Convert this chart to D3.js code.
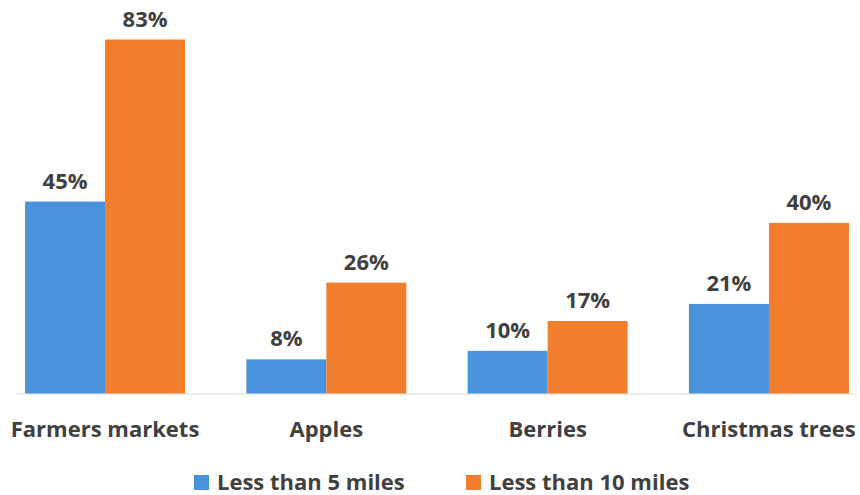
<!DOCTYPE html>
<html>
<head>
<meta charset="utf-8">
<script src="https://cdn.jsdelivr.net/npm/d3@7"></script>
<style>
  html, body { margin: 0; padding: 0; background: #fff; }
  svg { display: block; }
  text { font-family: "Open Sans", "DejaVu Sans", sans-serif; font-weight: 700; fill: #404040; }
</style>
</head>
<body>
<svg id="chart" width="860" height="495"></svg>
<script>
// Share of respondents within each distance, by destination
const categories = ["Farmers markets", "Apples", "Berries", "Christmas trees"];
const seriesNames = ["Less than 5 miles", "Less than 10 miles"];
const under5 = [45, 8, 10, 21];
const under10 = [83, 26, 17, 40];
const seriesColors = ["#4a92dc", "#f07e2c"];

const svg = d3.select("#chart");
const W = 860, H = 495;
const baseline = 393.5;

const x0 = d3.scaleBand()
  .domain(categories)
  .range([-5.6, 879.6])
  .paddingInner(0.277)
  .paddingOuter(0.1385);

const x1 = d3.scaleBand()
  .domain(seriesNames)
  .range([0, x0.bandwidth()]);

const y = d3.scaleLinear()
  .domain([0, 90])
  .range([baseline, baseline - 90 * 4.265]);

const rows = categories.map((c, i) => ({
  category: c,
  values: [
    { series: seriesNames[0], value: under5[i] },
    { series: seriesNames[1], value: under10[i] }
  ]
}));

// category axis line
svg.append("line")
  .attr("x1", 17).attr("x2", 857)
  .attr("y1", baseline + 0.5).attr("y2", baseline + 0.5)
  .attr("stroke", "#d9d9d9").attr("stroke-width", 1);

const groups = svg.selectAll("g.cat")
  .data(rows)
  .join("g")
  .attr("class", "cat")
  .attr("transform", d => `translate(${x0(d.category)},0)`);

groups.selectAll("rect")
  .data(d => d.values)
  .join("rect")
  .attr("x", d => x1(d.series))
  .attr("width", x1.bandwidth())
  .attr("y", d => y(d.value))
  .attr("height", d => y(0) - y(d.value))
  .attr("fill", (d, i) => seriesColors[i]);

groups.selectAll("text.val")
  .data(d => d.values)
  .join("text")
  .attr("class", "val")
  .attr("x", d => x1(d.series) + x1.bandwidth() / 2)
  .attr("y", d => y(d.value) - 13)
  .attr("text-anchor", "middle")
  .attr("font-size", 22)
  .text(d => d.value + "%");

// category labels
svg.append("g")
  .attr("transform", `translate(0,${baseline})`)
  .call(d3.axisBottom(x0).tickSize(0).tickPadding(0))
  .call(g => g.select(".domain").remove())
  .selectAll("text")
  .attr("y", 43)
  .attr("dy", 0)
  .attr("font-size", 22)
  .style("font-family", "'Open Sans', sans-serif")
  .style("font-weight", 700)
  .attr("fill", "#404040");

// legend
const legendX = [194, 466];
const legend = svg.selectAll("g.legend")
  .data(seriesNames)
  .join("g")
  .attr("class", "legend")
  .attr("transform", (d, i) => `translate(${legendX[i]},475)`);

legend.append("rect")
  .attr("width", 15).attr("height", 15)
  .attr("fill", (d, i) => seriesColors[i]);

legend.append("text")
  .attr("x", 23)
  .attr("y", 15)
  .attr("font-size", 22)
  .text(d => d);
</script>
</body>
</html>
